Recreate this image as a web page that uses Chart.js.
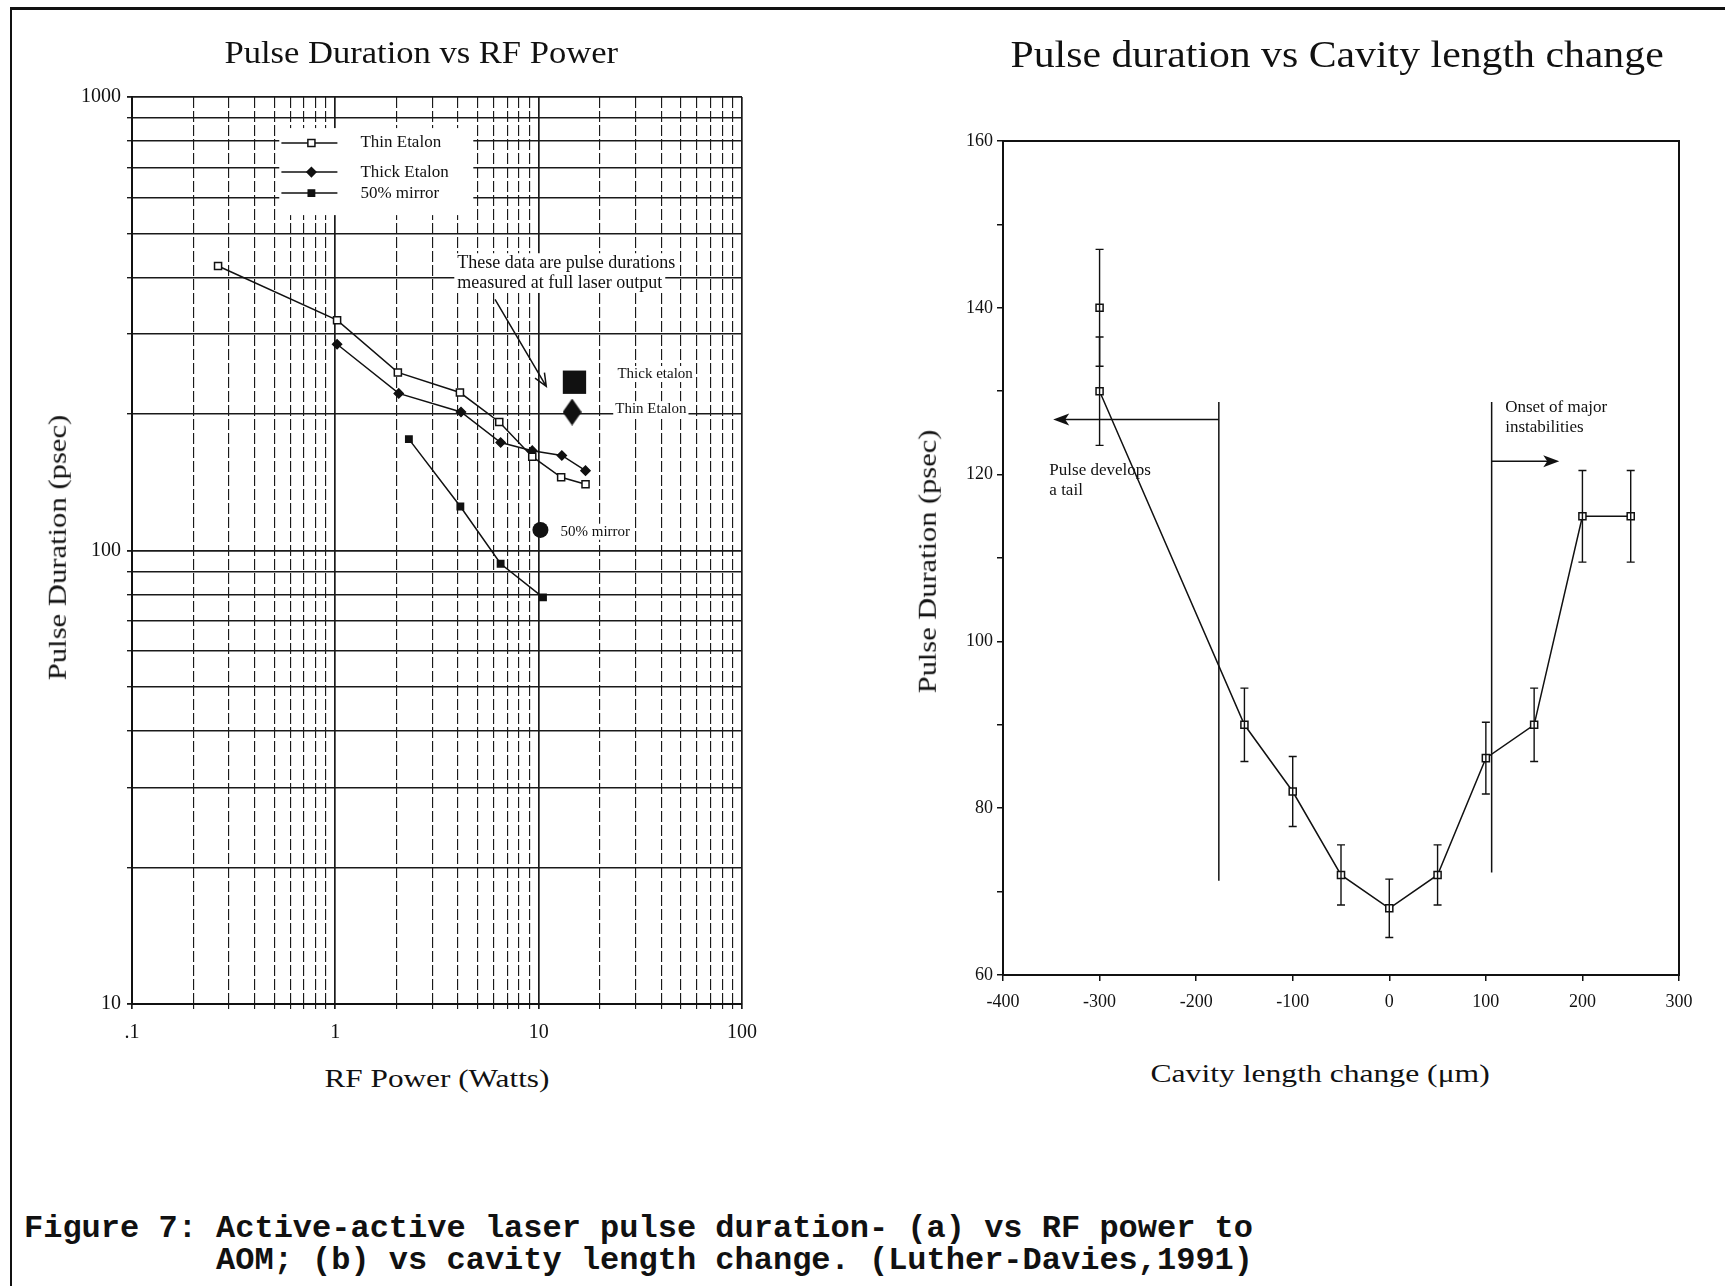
<!DOCTYPE html>
<html><head><meta charset="utf-8">
<script src="https://cdn.jsdelivr.net/npm/chart.js@4"></script>
<style>
html,body{margin:0;padding:0;background:#fff;}
body{width:1725px;height:1286px;position:relative;overflow:hidden;font-family:"Liberation Serif","Times New Roman",serif;color:#111;}
.t{position:absolute;white-space:nowrap;transform-origin:center center;line-height:1;left:0;top:0;}
canvas{position:absolute;}
#frameTop{position:absolute;left:10px;top:7px;width:1715px;height:3px;background:#111;}
#frameLeft{position:absolute;left:10px;top:7px;width:2px;height:1279px;background:#111;}
#caption{position:absolute;left:24px;top:1213px;margin:0;font:bold 32px "Liberation Mono","DejaVu Sans Mono",monospace;line-height:32px;color:#111;white-space:pre;}
</style></head>
<body>
<div id="frameTop"></div><div id="frameLeft"></div>
<canvas id="c1" width="800" height="1060" style="left:0;top:0"></canvas>
<canvas id="c2" width="865" height="1060" style="left:860px;top:0"></canvas>
<div class="t" id="t1" style="font-size:32px">Pulse Duration vs RF Power</div>
<div class="t" id="t2" style="font-size:38px">Pulse duration vs Cavity length change</div>
<div class="t" id="ay1" style="font-size:25px">Pulse Duration (psec)</div>
<div class="t" id="ax1" style="font-size:25px">RF Power (Watts)</div>
<div class="t" id="ay2" style="font-size:25px">Pulse Duration (psec)</div>
<div class="t" id="ax2" style="font-size:25px">Cavity length change (μm)</div>
<pre id="caption">Figure 7: Active-active laser pulse duration- (a) vs RF power to
          AOM; (b) vs cavity length change. (Luther-Davies,1991)</pre>
<script>
// ---------- Data: (a) Pulse duration vs RF power ----------
const thinX  = [0.265, 1.02, 2.03, 4.1, 6.4, 9.3, 12.9, 17.0];
const thinY  = [424, 322, 247, 223, 192, 161, 145, 140];
const thickX = [1.02, 2.05, 4.15, 6.5, 9.3, 13.0, 17.0];
const thickY = [285, 222, 202, 173, 166, 162, 150];
const mirrorX = [2.3, 4.12, 6.5, 10.5];
const mirrorY = [176, 125, 93.5, 78.8];
const fullOutputLabels = ['Thick etalon', 'Thin Etalon', '50% mirror'];
const fullOutputX = [15.0, 14.6, 10.2];
const fullOutputY = [235, 202, 111];
const powerTicks = [0.1, 1, 10, 100];
const powerTickLabels = ['.1', '1', '10', '100'];
const durationTicks = [10, 100, 1000];
const durationTickLabels = ['10', '100', '1000'];
const legendLabels = ['Thin Etalon', 'Thick Etalon', '50% mirror'];
const noteLines = ['These data are pulse durations', 'measured at full laser output'];

// ---------- Data: (b) Pulse duration vs cavity length change ----------
const cavityX   = [-300, -150, -100, -50, 0, 50, 100, 150, 200, 250];
const cavityY   = [130, 90, 82, 72, 68, 72, 86, 90, 115, 115];
const cavityErr = [6.5, 4.4, 4.2, 3.6, 3.5, 3.6, 4.3, 4.4, 5.5, 5.5];
const extraX = [-300];
const extraY = [140];
const extraErr = [7];
const cavityTickLabels = [-400, -300, -200, -100, 0, 100, 200, 300];
const durTickLabels2 = [60, 80, 100, 120, 140, 160];
const regionLineX = [-176.5, 106];
const regionLineTop = [128.7, 128.7];
const regionLineBottom = [71.3, 72.3];
const arrowTipX = [-348, 176];
const arrowY = [126.6, 121.6];
const noteTextsR = [['Pulse develops', 'a tail'], ['Onset of major', 'instabilities']];
const noteRX = [-352, 120];
const noteRY = [[120.5, 118.1], [128, 125.6]];

// annotation anchors in data units (chart a)
const legendBoxX = [0.53, 4.77];
const legendBoxY = [854, 549];
const legendRowY = [792, 683, 614];
const legendLineX = 0.543;
const noteX = 3.98;
const noteY = [430, 389];
const noteArrowFrom = [6.1, 358];
const noteArrowTo = [10.9, 230];
const fullLabelX = [24.4, 23.8, 12.8];
const fullLabelY = [245, 205, 110];

const pts = (xs, ys) => xs.map((x, i) => ({x, y: ys[i]}));
function logGrid(minExp, maxExp) {
  const v = [];
  for (let e = minExp; e < maxExp; e++) for (let d = 1; d < 10; d++) v.push(+(d * Math.pow(10, e)).toPrecision(8));
  v.push(Math.pow(10, maxExp));
  return v;
}
const isDecade = v => Math.abs(Math.log10(v) - Math.round(Math.log10(v))) < 1e-9;
const xGrid = logGrid(-1, 2);
const yGrid = logGrid(1, 3);
const INK = '#111';
const SERIF = '"Liberation Serif", "Times New Roman", serif';

const diamond = document.createElement('canvas');
diamond.width = 19; diamond.height = 27;
(() => { const d = diamond.getContext('2d'); d.fillStyle = INK; d.beginPath(); d.moveTo(9.5, 0); d.lineTo(19, 13.5); d.lineTo(9.5, 27); d.lineTo(0, 13.5); d.closePath(); d.fill(); })();

function drawMarker(ctx, style, r, fill, x, y) {
  ctx.save();
  ctx.fillStyle = fill; ctx.strokeStyle = INK; ctx.lineWidth = 1.5;
  if (Chart.helpers && Chart.helpers.drawPoint) {
    Chart.helpers.drawPoint(ctx, {pointStyle: style, radius: r, borderWidth: 1.5, rotation: 0}, x, y);
  }
  ctx.restore();
}

const leftAnnot = {
  id: 'leftAnnot',
  beforeDatasetsDraw(chart) {
    const ctx = chart.ctx, sx = chart.scales.x, sy = chart.scales.y;
    ctx.save();
    const bx0 = sx.getPixelForValue(legendBoxX[0]), bx1 = sx.getPixelForValue(legendBoxX[1]);
    const by0 = sy.getPixelForValue(legendBoxY[0]), by1 = sy.getPixelForValue(legendBoxY[1]);
    ctx.fillStyle = '#fff'; ctx.fillRect(bx0, by0, bx1 - bx0, by1 - by0);
    ctx.textBaseline = 'middle'; ctx.textAlign = 'left';
    // legend entries
    ctx.font = '17px ' + SERIF;
    const lx = sx.getPixelForValue(legendLineX);
    chart.data.datasets.slice(0, 3).forEach((ds, i) => {
      const y = sy.getPixelForValue(legendRowY[i]);
      ctx.strokeStyle = INK; ctx.lineWidth = 1.5;
      ctx.beginPath(); ctx.moveTo(lx, y); ctx.lineTo(lx + 56, y); ctx.stroke();
      drawMarker(ctx, ds.pointStyle, ds.pointRadius, ds.pointBackgroundColor, lx + 30, y);
      ctx.fillStyle = INK; ctx.fillText(legendLabels[i], lx + 79, y);
    });
    // note
    ctx.font = '18px ' + SERIF;
    noteLines.forEach((t, i) => {
      const x = sx.getPixelForValue(noteX), y = sy.getPixelForValue(noteY[i]);
      const w = ctx.measureText(t).width;
      ctx.fillStyle = '#fff'; ctx.fillRect(x - 3, y - 10, w + 6, 20);
      ctx.fillStyle = INK; ctx.fillText(t, x, y);
    });
    ctx.font = '15px ' + SERIF;
    fullOutputLabels.forEach((t, i) => {
      const x = sx.getPixelForValue(fullLabelX[i]), y = sy.getPixelForValue(fullLabelY[i]);
      const w = ctx.measureText(t).width;
      ctx.fillStyle = '#fff'; ctx.fillRect(x - 2, y - 8, w + 4, 16);
      ctx.fillStyle = INK; ctx.fillText(t, x, y);
    });
    ctx.restore();
  },
  afterDatasetsDraw(chart) {
    const ctx = chart.ctx, sx = chart.scales.x, sy = chart.scales.y;
    const x0 = sx.getPixelForValue(noteArrowFrom[0]), y0 = sy.getPixelForValue(noteArrowFrom[1]);
    const x1 = sx.getPixelForValue(noteArrowTo[0]), y1 = sy.getPixelForValue(noteArrowTo[1]);
    const a = Math.atan2(y1 - y0, x1 - x0);
    ctx.save(); ctx.strokeStyle = INK; ctx.lineWidth = 1.5;
    ctx.beginPath(); ctx.moveTo(x0, y0); ctx.lineTo(x1, y1);
    ctx.moveTo(x1 - 14 * Math.cos(a - 0.4), y1 - 14 * Math.sin(a - 0.4)); ctx.lineTo(x1, y1);
    ctx.lineTo(x1 - 14 * Math.cos(a + 0.4), y1 - 14 * Math.sin(a + 0.4));
    ctx.stroke(); ctx.restore();
  }
};

const lineDs = (label, xs, ys, style, r, fill) => ({
  label, data: pts(xs, ys), showLine: true, borderColor: INK, borderWidth: 1.5,
  pointStyle: style, pointRadius: r, pointBackgroundColor: fill, pointBorderColor: INK, pointBorderWidth: 1.5
});
const single = (label, i, style, r) => ({
  label, data: [{x: fullOutputX[i], y: fullOutputY[i]}], showLine: false,
  pointStyle: style, pointRadius: r, pointBackgroundColor: INK, pointBorderColor: INK, pointBorderWidth: 0
});

new Chart(document.getElementById('c1'), {
  type: 'scatter',
  data: {datasets: [
    lineDs('Thin Etalon', thinX, thinY, 'rect', 5, '#fff'),
    lineDs('Thick Etalon', thickX, thickY, 'rectRot', 4.5, INK),
    lineDs('50% mirror', mirrorX, mirrorY, 'rect', 4.5, INK),
    single('Thick etalon (full output)', 0, 'rect', 16.5),
    single('Thin Etalon (full output)', 1, diamond, 10),
    single('50% mirror (full output)', 2, 'circle', 8)
  ]},
  options: {
    responsive: false, animation: false, events: [],
    layout: {padding: {left: 0, top: 97, right: 58, bottom: 16}},
    plugins: {legend: {display: false}, tooltip: {enabled: false}},
    scales: {
      x: {
        type: 'logarithmic', min: 0.1, max: 100,
        afterBuildTicks: s => { s.ticks = xGrid.map(v => ({value: v})); },
        afterFit: s => { s.height = 40; },
        ticks: {autoSkip: false, maxRotation: 0, padding: 12, color: INK, font: {family: SERIF, size: 20},
          callback: v => { const i = powerTicks.findIndex(t => Math.abs(t - v) / t < 1e-6); return i >= 0 ? powerTickLabels[i] : ''; }},
        grid: {color: '#1a1a1a', lineWidth: c => (c.tick && isDecade(c.tick.value)) ? 1.7 : 1.15, tickLength: 5},
        border: {display: true, color: INK, width: 2, dash: c => (c.tick && !isDecade(c.tick.value)) ? [11, 3] : []}
      },
      y: {
        type: 'logarithmic', min: 10, max: 1000,
        afterBuildTicks: s => { s.ticks = yGrid.map(v => ({value: v})); },
        afterFit: s => { s.width = 132; },
        ticks: {autoSkip: false, padding: 6, color: INK, font: {family: SERIF, size: 20},
          callback: v => { const i = durationTicks.findIndex(t => Math.abs(t - v) / t < 1e-6); return i >= 0 ? durationTickLabels[i] : ''; }},
        grid: {color: '#1a1a1a', lineWidth: c => (c.tick && isDecade(c.tick.value)) ? 1.8 : 1.4, tickLength: 5},
        border: {display: true, color: INK, width: 2}
      }
    }
  },
  plugins: [leftAnnot]
});

// ---------- chart (b) ----------
const rightAnnot = {
  id: 'rightAnnot',
  afterDatasetsDraw(chart) {
    const ctx = chart.ctx, sx = chart.scales.x, sy = chart.scales.y, ca = chart.chartArea;
    ctx.save();
    ctx.strokeStyle = INK; ctx.lineWidth = 2;
    ctx.strokeRect(ca.left, ca.top, ca.right - ca.left, ca.bottom - ca.top);
    // error bars
    ctx.lineWidth = 1.4;
    const bars = (xs, ys, es) => xs.forEach((x, i) => {
      const px = sx.getPixelForValue(x), yt = sy.getPixelForValue(ys[i] + es[i]), yb = sy.getPixelForValue(ys[i] - es[i]);
      ctx.beginPath(); ctx.moveTo(px, yt); ctx.lineTo(px, yb);
      ctx.moveTo(px - 4, yt); ctx.lineTo(px + 4, yt); ctx.moveTo(px - 4, yb); ctx.lineTo(px + 4, yb); ctx.stroke();
    });
    bars(cavityX, cavityY, cavityErr);
    bars(extraX, extraY, extraErr);
    // region lines and arrows
    ctx.lineWidth = 1.5;
    regionLineX.forEach((x, i) => {
      const px = sx.getPixelForValue(x);
      ctx.beginPath(); ctx.moveTo(px, sy.getPixelForValue(regionLineTop[i])); ctx.lineTo(px, sy.getPixelForValue(regionLineBottom[i])); ctx.stroke();
      const ay = sy.getPixelForValue(arrowY[i]), tip = sx.getPixelForValue(arrowTipX[i]);
      const dir = Math.sign(tip - px);
      ctx.beginPath(); ctx.moveTo(px, ay); ctx.lineTo(tip - dir * 10, ay); ctx.stroke();
      ctx.fillStyle = INK; ctx.beginPath(); ctx.moveTo(tip, ay); ctx.lineTo(tip - dir * 16, ay - 6); ctx.lineTo(tip - dir * 12, ay); ctx.lineTo(tip - dir * 16, ay + 6); ctx.closePath(); ctx.fill();
    });
    ctx.font = '17px ' + SERIF; ctx.textBaseline = 'middle'; ctx.textAlign = 'left'; ctx.fillStyle = INK;
    noteTextsR.forEach((lines, i) => lines.forEach((t, j) => ctx.fillText(t, sx.getPixelForValue(noteRX[i]), sy.getPixelForValue(noteRY[i][j]))));
    ctx.restore();
  }
};

new Chart(document.getElementById('c2'), {
  type: 'scatter',
  data: {datasets: [
    {label: 'Pulse duration', data: pts(cavityX, cavityY), showLine: true, borderColor: INK, borderWidth: 1.5,
     pointStyle: 'rect', pointRadius: 5, pointBackgroundColor: '#fff', pointBorderColor: INK, pointBorderWidth: 1.5},
    {label: 'Pulse duration (second)', data: pts(extraX, extraY), showLine: false,
     pointStyle: 'rect', pointRadius: 5, pointBackgroundColor: '#fff', pointBorderColor: INK, pointBorderWidth: 1.5}
  ]},
  options: {
    responsive: false, animation: false, events: [],
    layout: {padding: {left: 0, top: 141, right: 46, bottom: 45}},
    plugins: {legend: {display: false}, tooltip: {enabled: false}},
    scales: {
      x: {
        type: 'linear', min: -400, max: 300,
        afterFit: s => { s.height = 40; },
        ticks: {stepSize: 100, padding: 10, color: INK, font: {family: SERIF, size: 18}, maxRotation: 0,
          callback: v => cavityTickLabels.includes(v) ? String(v) : ''},
        grid: {drawOnChartArea: false, color: INK, tickLength: 6, lineWidth: 1.5},
        border: {display: true, color: INK, width: 2}
      },
      y: {
        type: 'linear', min: 60, max: 160,
        afterFit: s => { s.width = 143; },
        ticks: {stepSize: 10, autoSkip: false, padding: 4, color: INK, font: {family: SERIF, size: 18},
          callback: v => durTickLabels2.includes(v) ? String(v) : ''},
        grid: {drawOnChartArea: false, color: INK, tickLength: 6, lineWidth: 1.5},
        border: {display: true, color: INK, width: 2}
      }
    }
  },
  plugins: [rightAnnot]
});

// ---------- place HTML titles ----------
function place(id, cx, cy, target, rot) {
  const el = document.getElementById(id);
  el.style.transform = 'none';
  const w = el.offsetWidth, h = el.offsetHeight;
  el.style.left = (cx - w / 2) + 'px';
  el.style.top = (cy - h / 2) + 'px';
  el.style.transform = (rot ? 'rotate(' + rot + 'deg) ' : '') + 'scaleX(' + (target / w) + ')';
}
function placeAll() {
  place('t1', 421, 52, 393);
  place('t2', 1337, 54, 653);
  place('ay1', 57, 547, 266, -90);
  place('ax1', 437, 1078, 225);
  place('ay2', 927, 561, 264, -90);
  place('ax2', 1320, 1073, 339);
}
placeAll();
if (document.fonts && document.fonts.ready) document.fonts.ready.then(placeAll);
</script>
</body></html>
